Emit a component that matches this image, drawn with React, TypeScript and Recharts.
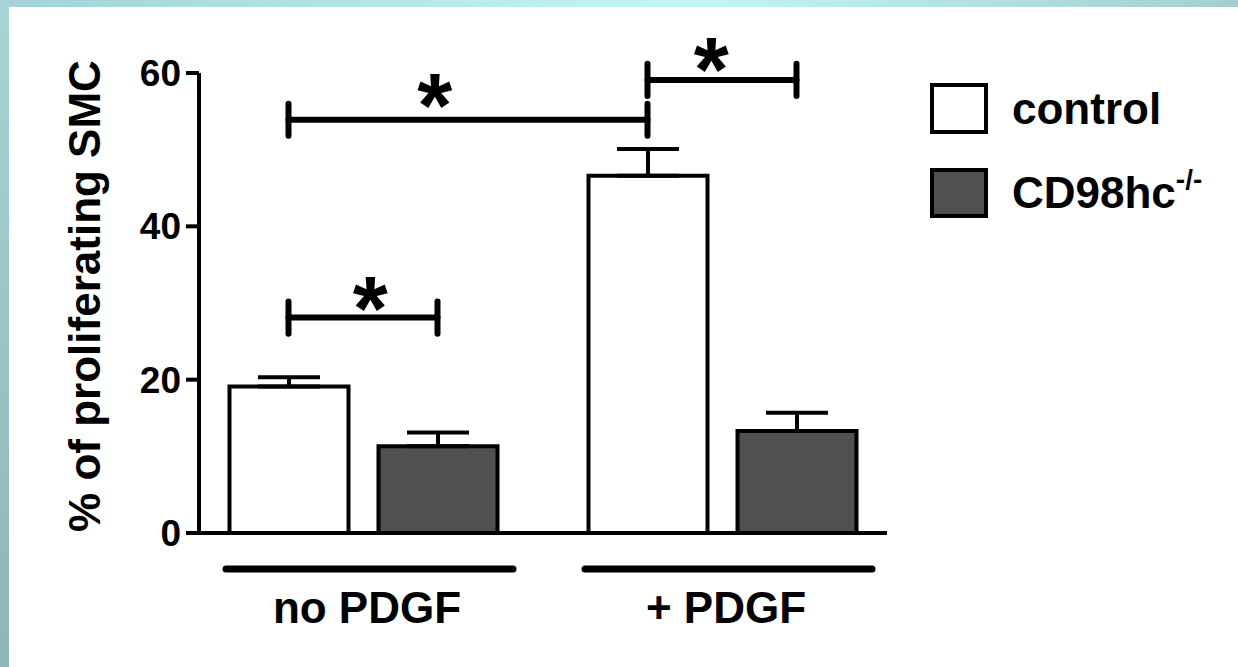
import React from "react";
import {
  Bar,
  BarChart,
  ErrorBar,
  Legend,
  ReferenceDot,
  ReferenceLine,
  XAxis,
  YAxis,
} from "recharts";

const GROUPS = ["no PDGF", "+ PDGF"];
const CONTROL = [19.1, 46.6];
const CONTROL_SEM = [1.2, 3.5];
const KNOCKOUT = [11.3, 13.3];
const KNOCKOUT_SEM = [1.8, 2.4];
const Y_TICKS = [0, 20, 40, 60];

// significance brackets: ends as [group, series], level in %
const SIG_FROM = [[0, 0], [0, 0], [1, 0]];
const SIG_TO = [[0, 1], [1, 0], [1, 1]];
const SIG_LEVEL = [28.1, 53.9, 59.1];
// star positions (x in group units, y in %)
const STAR_X = [0.52, 0.7, 1.47];
const STAR_LEVEL = [31.6, 58.1, 62.8];

const FONT = '"Liberation Sans", Arial, Helvetica, sans-serif';
const W = 1238;
const H = 667;
const MARGIN = { top: 73, right: 351, bottom: 0, left: 0 };
const Y_AXIS_W = 199;
const X_AXIS_H = 134;
const PLOT_W = W - MARGIN.left - MARGIN.right - Y_AXIS_W;
const PAD = { left: -15.5, right: -14.5 };
const BAR_SIZE = 119;
const BAR_GAP = 30;
const BAND = (PLOT_W - PAD.left - PAD.right) / GROUPS.length;
const TICK_HALF = 2.1;
const STAR_FS = 90;

const rows = GROUPS.map((g, i) => ({
  group: g,
  control: CONTROL[i],
  controlErr: [0, CONTROL_SEM[i]],
  ko: KNOCKOUT[i],
  koErr: [0, KNOCKOUT_SEM[i]],
}));

// the hidden "sig" axis runs 0..1 over the whole band range
const toSig = (groupUnits: number) => groupUnits / GROUPS.length;

/** centre of a bar on the hidden "sig" axis */
function barPos([group, series]: number[]) {
  const shift = (BAR_SIZE + BAR_GAP) / 2 / BAND;
  return toSig(group + 0.5 + (series === 0 ? -shift : shift));
}

function GroupTick(props: any) {
  const { x, y, payload } = props;
  return (
    <g>
      <line x1={x - 137} x2={x + 150} y1={y + 36} y2={y + 36} stroke="#000" strokeWidth={7} strokeLinecap="round" />
      <text x={x + 4} y={y + 90} textAnchor="middle" fontFamily={FONT} fontWeight={700} fontSize={44} fill="#000">
        {payload.value}
      </text>
    </g>
  );
}

function YLabel(props: any) {
  const vb = props.viewBox || { x: 0, y: MARGIN.top, width: Y_AXIS_W, height: 460 };
  const cx = vb.x + 100;
  const cy = vb.y + vb.height / 2 - 7;
  return (
    <text
      x={cx}
      y={cy}
      transform={`rotate(-90 ${cx} ${cy})`}
      textAnchor="middle"
      fontFamily={FONT}
      fontWeight={700}
      fontSize={44}
      fill="#000"
    >
      % of proliferating SMC
    </text>
  );
}

function Star(props: any) {
  const { cx, cy } = props;
  return (
    <text x={cx} y={cy + STAR_FS * 0.55} textAnchor="middle" fontFamily={FONT} fontWeight={700} fontSize={STAR_FS} fill="#000">
      *
    </text>
  );
}

function KeyBox() {
  const txt = { fontFamily: FONT, fontWeight: 700, fontSize: 44, fill: "#000" };
  return (
    <svg width={300} height={160} style={{ display: "block" }}>
      <rect x={12} y={15} width={54} height={47} fill="#fff" stroke="#000" strokeWidth={4} />
      <text x={92} y={54} {...txt}>control</text>
      <rect x={12} y={100} width={54} height={46} fill="#505050" stroke="#000" strokeWidth={4} />
      <text x={92} y={138} {...txt}>
        CD98hc<tspan fontSize={28} dy={-19}>-/-</tspan>
      </text>
    </svg>
  );
}

export default function App() {
  const line = { stroke: "#000", strokeWidth: 6, strokeLinecap: "round" as const };
  return (
    <div style={{ position: "absolute", left: 0, top: 0, width: W, height: H, background: "#fff", overflow: "hidden" }}>
      <BarChart width={W} height={H} data={rows} margin={MARGIN} barGap={BAR_GAP}>
        <XAxis
          xAxisId="cat"
          dataKey="group"
          height={X_AXIS_H}
          padding={PAD}
          interval={0}
          tickLine={false}
          tickSize={0}
          tickMargin={0}
          axisLine={{ stroke: "#000", strokeWidth: 4 }}
          tick={<GroupTick />}
        />
        <XAxis xAxisId="sig" type="number" domain={[0, 1]} allowDataOverflow hide padding={PAD} />
        <YAxis
          width={Y_AXIS_W}
          domain={[0, 60]}
          ticks={Y_TICKS}
          interval={0}
          tickSize={13}
          tickMargin={5}
          axisLine={{ stroke: "#000", strokeWidth: 4 }}
          tickLine={{ stroke: "#000", strokeWidth: 4 }}
          tick={{ fontSize: 37, fontWeight: 700, fill: "#000", fontFamily: FONT }}
          label={<YLabel />}
        />
        <Legend
          layout="vertical"
          align="center"
          verticalAlign="middle"
          wrapperStyle={{ left: 920, top: 70, width: 300, height: 160 }}
          content={() => <KeyBox />}
        />
        <Bar xAxisId="cat" dataKey="control" name="control" fill="#fff" stroke="#000" strokeWidth={4} barSize={BAR_SIZE} isAnimationActive={false}>
          <ErrorBar dataKey="controlErr" width={31} stroke="#000" strokeWidth={4} direction="y" isAnimationActive={false} />
        </Bar>
        <Bar xAxisId="cat" dataKey="ko" name="CD98hc-/-" fill="#505050" stroke="#000" strokeWidth={4} barSize={BAR_SIZE} isAnimationActive={false}>
          <ErrorBar dataKey="koErr" width={31} stroke="#000" strokeWidth={4} direction="y" isAnimationActive={false} />
        </Bar>
        {SIG_LEVEL.flatMap((lvl, i) => {
          const a = barPos(SIG_FROM[i]);
          const b = barPos(SIG_TO[i]);
          return [
            <ReferenceLine key={`h${i}`} xAxisId="sig" ifOverflow="visible" segment={[{ x: a, y: lvl }, { x: b, y: lvl }]} {...line} />,
            <ReferenceLine key={`l${i}`} xAxisId="sig" ifOverflow="visible" segment={[{ x: a, y: lvl - TICK_HALF }, { x: a, y: lvl + TICK_HALF }]} {...line} />,
            <ReferenceLine key={`r${i}`} xAxisId="sig" ifOverflow="visible" segment={[{ x: b, y: lvl - TICK_HALF }, { x: b, y: lvl + TICK_HALF }]} {...line} />,
            <ReferenceDot key={`s${i}`} xAxisId="sig" ifOverflow="visible" x={toSig(STAR_X[i])} y={STAR_LEVEL[i]} r={1} shape={<Star />} />,
          ];
        })}
      </BarChart>
      <div style={{ position: "absolute", left: 0, top: 0, width: W, height: 7, background: "linear-gradient(to right, #a2d2d5, #c2f6f6 55%, #a3cfd2)" }} />
      <div style={{ position: "absolute", left: 0, top: 0, width: 9, height: H, background: "linear-gradient(to bottom, #a6d4d7, #8fb4ba)" }} />
    </div>
  );
}
